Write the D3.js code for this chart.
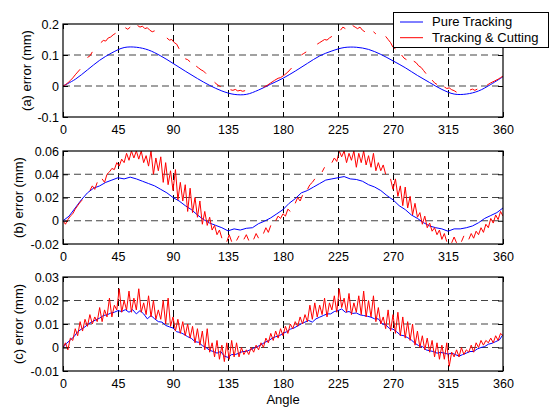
<!DOCTYPE html>
<html>
<head>
<meta charset="utf-8">
<script src="https://cdn.jsdelivr.net/npm/d3@7"></script>
<style>
  body { margin: 0; background: #fff; }
  text { font-family: "Liberation Sans", Arial, sans-serif; fill: #000; }
</style>
</head>
<body>
<svg id="chart" width="554" height="408"></svg>
<script>
// x axis ticks (degrees)
const angleTicks = [0, 45, 90, 135, 180, 225, 270, 315, 360];

// (a) pure tracking, every 10 deg
const pureA = [0, 0.0215, 0.052, 0.083, 0.107, 0.124, 0.125, 0.116, 0.097, 0.073,
  0.048, 0.024, 0.002, -0.016, -0.027, -0.027, -0.013, 0.006, 0.025, 0.048,
  0.073, 0.097, 0.113, 0.124, 0.125, 0.118, 0.102, 0.081, 0.059, 0.034,
  0.011, -0.011, -0.026, -0.026, -0.016, 0.005, 0.030];

// (a) tracking & cutting, [angle, error], null = gap in the trace
const cuttingA = [
  [0, 0], [2, 0.004], [4, 0.010], [6, 0.018], [8, 0.026], [10, 0.036], [12, 0.045], [14, 0.054], null,
  [20, 0.092], [22, 0.097], [24, 0.110], null,
  [31, 0.140], [33, 0.147], [35, 0.145], [37, 0.155], [39, 0.158], [41, 0.165], [43, 0.170], null,
  [51, 0.188], [53, 0.183], [55, 0.190], null,
  [61, 0.195], [63, 0.190], [65, 0.193], [67, 0.185], [69, 0.188], [71, 0.180], [73, 0.175], [75, 0.178], null,
  [85, 0.155], [87, 0.148], [89, 0.150], [91, 0.140], [93, 0.135], [95, 0.120], null,
  [100, 0.088], [102, 0.085], [104, 0.078], null,
  [109, 0.064], [111, 0.058], [113, 0.052], [115, 0.048], [117, 0.040], null,
  [124, 0.012], [126, 0.005], [128, 0.000], [129, -0.002], null,
  [137, -0.012], [139, -0.014], [141, -0.011], [143, -0.016], [145, -0.014], [147, -0.017], [149, -0.015], null,
  [164, -0.004], [167, 0.002], [170, 0.010], [173, 0.018], [176, 0.025], [178, 0.027], [181, 0.035], [184, 0.045], [187, 0.058], null,
  [195, 0.100], [197, 0.105], [199, 0.110], null,
  [208, 0.135], [210, 0.140], [212, 0.145], [214, 0.150], [216, 0.148], [218, 0.155], [220, 0.160], null,
  [227, 0.180], [229, 0.190], [231, 0.185], null,
  [237, 0.195], [239, 0.190], [241, 0.185], [243, 0.190], [245, 0.180], [247, 0.175], null,
  [254, 0.175], [256, 0.168], null,
  [264, 0.160], [266, 0.150], [268, 0.140], [270, 0.125], [272, 0.120], null,
  [277, 0.100], [279, 0.090], [281, 0.085], null,
  [287, 0.080], [289, 0.075], [291, 0.065], [293, 0.060], [295, 0.050], [297, 0.040], null,
  [302, 0.019], [304, 0.010], [306, 0.005], null,
  [312, -0.003], [314, -0.008], [316, -0.006], [318, -0.012], [320, -0.015], [322, -0.020], null,
  [333, -0.013], [335, -0.010], [337, -0.014], [339, -0.010], null,
  [347, 0.003], [350, 0.010], [353, 0.016], [356, 0.022], [358, 0.027], [360, 0.032]
];

// (b) pure tracking, every 5 deg
const pureB = [0, 0.004, 0.011, 0.018, 0.024, 0.028, 0.030, 0.033, 0.035, 0.037,
  0.036, 0.0375, 0.036, 0.034, 0.032, 0.030, 0.027, 0.024, 0.020, 0.017,
  0.013, 0.0096, 0.005, 0.001, -0.002, -0.004, -0.006, -0.0087, -0.007, -0.008,
  -0.0065, -0.006, -0.0025, -0.0003, 0.0025, 0.006, 0.0096, 0.015, 0.019, 0.024,
  0.026, 0.029, 0.032, 0.035, 0.036, 0.037, 0.038, 0.036, 0.0355, 0.034,
  0.031, 0.029, 0.026, 0.0217, 0.018, 0.013, 0.0096, 0.005, 0.002, -0.0017,
  -0.0045, -0.006, -0.007, -0.009, -0.007, -0.007, -0.006, -0.0045, -0.0017, 0.002,
  0.0045, 0.007, 0.011];

// (b) tracking & cutting, every 2 deg
const cuttingB = [
  0, -0.003, 0.001, 0.004, 0.006, 0.010, 0.013, 0.016, 0.018, null, null, 0.026, 0.030, 0.027, 0.033,
  null, 0.036, 0.033, 0.040, 0.042, 0.045, 0.044, 0.050, 0.047, 0.053, 0.050, 0.058, 0.052, 0.060, 0.054,
  0.060, 0.053, 0.060, 0.050, 0.056, 0.047, 0.060, 0.040, 0.054, 0.043, 0.055, 0.033, 0.050, 0.031, 0.043,
  0.026, 0.044, 0.018, 0.033, 0.017, 0.031, 0.008, 0.028, 0.007, 0.020, 0.003, 0.017, -0.003, 0.008, -0.004,
  0.003, -0.008, -0.004, -0.012, -0.008, -0.015, null, -0.018, -0.012, -0.018, null, -0.017, -0.013, null, -0.016,
  -0.012, -0.017, null, -0.016, -0.011, -0.015, null, -0.011, -0.006, -0.010, -0.004, null, 0.000, 0.004, 0.002,
  0.006, 0.004, 0.010, 0.008, null, 0.015, 0.020, 0.017, 0.022, null, 0.027, 0.031, 0.033, 0.036, null,
  null, 0.042, 0.046, null, null, 0.050, 0.054, 0.051, 0.060, 0.055, 0.060, 0.050, 0.058, 0.052, 0.060,
  0.046, 0.058, 0.050, 0.060, 0.048, 0.056, 0.046, 0.058, 0.043, 0.050, 0.043, 0.048, 0.040, null, 0.036,
  0.027, 0.036, 0.021, 0.030, 0.013, 0.029, 0.011, 0.021, 0.005, 0.015, 0.003, 0.007, -0.003, 0.004, -0.006,
  -0.002, -0.009, -0.006, -0.012, -0.008, -0.016, -0.011, -0.018, null, -0.019, -0.014, -0.019, null, -0.018, -0.013,
  null, -0.016, -0.011, -0.015, -0.009, -0.012, -0.006, -0.010, -0.003, -0.006, 0.002, -0.002, 0.005, 0.001, 0.008,
  0.004];

// (c) pure tracking, every 3 deg
const pureC = [
  0, 0.0018, 0.0032, 0.0046, 0.0067, 0.0078, 0.0088, 0.0101, 0.011, 0.0118,
  0.0125, 0.0136, 0.0139, 0.0146, 0.015, 0.0157, 0.0153, 0.0161, 0.015, 0.0161,
  0.0143, 0.0157, 0.0143, 0.0122, 0.0136, 0.0122, 0.011, 0.0108, 0.0094, 0.0088,
  0.0083, 0.0067, 0.0064, 0.0056, 0.0046, 0.0039, 0.0025, 0.0022, 0.0008, 0,
  -0.0012, -0.0017, -0.0024, -0.0017, -0.0037, -0.0042, -0.003, -0.003, -0.0024, -0.0017,
  -0.0017, -0.001, -0.0003, 0.0004, 0.0011, 0.0022, 0.0028, 0.0039, 0.0046, 0.005,
  0.006, 0.0067, 0.0078, 0.0083, 0.0092, 0.0101, 0.0108, 0.0115, 0.0108, 0.0122,
  0.0129, 0.0136, 0.0143, 0.0143, 0.0153, 0.0157, 0.0164, 0.015, 0.0153, 0.0145,
  0.0147, 0.0139, 0.0136, 0.0133, 0.0129, 0.0122, 0.0122, 0.0101, 0.0097, 0.0081,
  0.0078, 0.0067, 0.0053, 0.005, 0.0042, 0.0032, 0.0018, 0.0008, 0.0004, -0.001,
  -0.0014, -0.0017, -0.0024, -0.0021, -0.0024, -0.0028, -0.0024, -0.003, -0.0037, -0.003,
  -0.0024, -0.0017, -0.0017, -0.0006, 0, 0.0004, 0.0014, 0.0018, 0.0025, 0.0032,
  0.0055];

// (c) tracking & cutting, every 2 deg
const cuttingC = [
  0, 0.002, -0.001, 0.004, 0.003, 0.008, 0.005, 0.011, 0.007, 0.012, 0.009, 0.014, 0.010, 0.013, 0.011,
  0.017, 0.011, 0.016, 0.013, 0.021, 0.013, 0.018, 0.016, 0.025, 0.015, 0.020, 0.016, 0.024, 0.015, 0.021,
  0.016, 0.025, 0.015, 0.019, 0.014, 0.022, 0.013, 0.020, 0.012, 0.016, 0.012, 0.020, 0.010, 0.021, 0.009,
  0.013, 0.007, 0.012, 0.006, 0.011, 0.005, 0.010, 0.004, 0.009, 0.002, 0.008, 0.001, 0.007, -0.001, 0.008,
  -0.002, 0.002, -0.004, 0.003, -0.005, 0.001, -0.006, 0.002, -0.005, 0.003, -0.004, 0.002, -0.004, 0.000, -0.003,
  -0.001, -0.003, 0.000, -0.002, 0.001, -0.001, 0.002, 0.000, 0.004, 0.002, 0.006, 0.003, 0.007, 0.004, 0.008,
  0.005, 0.009, 0.006, 0.010, 0.008, 0.011, 0.009, 0.013, 0.010, 0.014, 0.011, 0.018, 0.012, 0.019, 0.013,
  0.018, 0.014, 0.021, 0.013, 0.019, 0.016, 0.022, 0.015, 0.025, 0.017, 0.021, 0.015, 0.023, 0.014, 0.019,
  0.015, 0.022, 0.014, 0.024, 0.013, 0.020, 0.013, 0.022, 0.011, 0.017, 0.010, 0.013, 0.008, 0.016, 0.007,
  0.014, 0.006, 0.015, 0.005, 0.013, 0.004, 0.011, 0.003, 0.010, 0.001, 0.007, 0.000, 0.005, -0.001, 0.004,
  -0.002, 0.003, -0.004, 0.002, -0.005, 0.001, -0.005, 0.002, -0.008, -0.002, -0.004, -0.001, -0.004, 0.000, -0.003,
  -0.001, -0.002, 0.001, -0.002, 0.002, 0.000, 0.003, 0.001, 0.003, 0.002, 0.004, 0.002, 0.005, 0.003, 0.006,
  0.005];

const ticksA = [-0.1, 0, 0.1, 0.2];
const ticksB = [-0.02, 0, 0.02, 0.04, 0.06];
const ticksC = [-0.01, 0, 0.01, 0.02, 0.03];

const seriesNames = ["Pure Tracking", "Tracking & Cutting"];
const colors = ["#0000ff", "#ff0000"];

const svg = d3.select("#chart");
const left = 63, right = 503;
const x = d3.scaleLinear().domain([0, 360]).range([left, right]);

const panels = [
  { id: "a", label: "(a) error (mm)", top: 24, bottom: 117, ticks: ticksA, labelX: 31,
    pure: d3.zip(d3.range(0, 361, 10), pureA), cut: cuttingA, curve: d3.curveCatmullRom },
  { id: "b", label: "(b) error (mm)", top: 151, bottom: 244, ticks: ticksB, labelX: 23,
    pure: d3.zip(d3.range(0, 361, 5), pureB), cut: d3.zip(d3.range(0, 361, 2), cuttingB), curve: d3.curveLinear },
  { id: "c", label: "(c) error (mm)", top: 277, bottom: 371, ticks: ticksC, labelX: 23,
    pure: d3.zip(d3.range(0, 361, 3), pureC), cut: d3.zip(d3.range(0, 361, 2), cuttingC), curve: d3.curveLinear }
];

panels.forEach(p => {
  const y = d3.scaleLinear().domain(d3.extent(p.ticks)).range([p.bottom, p.top]);
  const g = svg.append("g");

  // dashed grid
  g.selectAll(".vg").data(angleTicks.slice(1, -1)).join("line")
    .attr("x1", d => Math.round(x(d)) + 0.5).attr("x2", d => Math.round(x(d)) + 0.5)
    .attr("y1", p.top).attr("y2", p.bottom)
    .attr("stroke", "#000").attr("stroke-dasharray", "7,4");
  g.selectAll(".hg").data(p.ticks.slice(1, -1)).join("line")
    .attr("x1", left).attr("x2", right)
    .attr("y1", d => y(d)).attr("y2", d => y(d))
    .attr("stroke", "#444").attr("stroke-width", 1.2).attr("stroke-dasharray", "7,4");

  g.append("clipPath").attr("id", "clip-" + p.id)
    .append("rect").attr("x", left).attr("y", p.top)
    .attr("width", right - left).attr("height", p.bottom - p.top);

  const line = d3.line()
    .defined(d => d && d[1] != null)
    .x(d => x(d[0])).y(d => y(d[1]));

  const plot = g.append("g").attr("clip-path", "url(#clip-" + p.id + ")");
  plot.append("path").datum(p.pure)
    .attr("d", line.curve(p.curve))
    .attr("fill", "none").attr("stroke", colors[0]).attr("stroke-width", 1);
  plot.append("path").datum(p.cut)
    .attr("d", line.curve(d3.curveLinear))
    .attr("fill", "none").attr("stroke", colors[1]).attr("stroke-width", 1);

  // axes, ticks pointing inwards
  const fmt = d => String(d);
  g.append("g").attr("transform", `translate(0,${p.bottom})`)
    .call(d3.axisBottom(x).tickValues(angleTicks).tickSize(-5).tickSizeOuter(0).tickPadding(8))
    .call(a => a.select(".domain").remove())
    .selectAll("text").attr("font-size", "12.5px");
  g.append("g").attr("transform", `translate(0,${p.top})`)
    .call(d3.axisTop(x).tickValues(angleTicks).tickSize(-5).tickSizeOuter(0).tickFormat(""))
    .call(a => a.select(".domain").remove());
  g.append("g").attr("transform", `translate(${left},0)`)
    .call(d3.axisLeft(y).tickValues(p.ticks).tickSize(-5).tickSizeOuter(0).tickPadding(4).tickFormat(fmt))
    .call(a => a.select(".domain").remove())
    .selectAll("text").attr("font-size", "12.5px");
  g.append("g").attr("transform", `translate(${right},0)`)
    .call(d3.axisRight(y).tickValues(p.ticks).tickSize(-5).tickSizeOuter(0).tickFormat(""))
    .call(a => a.select(".domain").remove());
  g.selectAll(".tick line").attr("stroke", "#000");
  g.selectAll(".tick text").attr("fill", "#000").attr("font-family", "Liberation Sans, Arial, sans-serif");

  g.append("rect")
    .attr("x", left).attr("y", p.top)
    .attr("width", right - left).attr("height", p.bottom - p.top)
    .attr("fill", "none").attr("stroke", "#000").attr("stroke-width", 1.2);

  g.append("text")
    .attr("transform", `translate(${p.labelX},${(p.top + p.bottom) / 2}) rotate(-90)`)
    .attr("text-anchor", "middle").attr("font-size", "13px")
    .text(p.label);
});

svg.append("text")
  .attr("x", (left + right) / 2).attr("y", 404)
  .attr("text-anchor", "middle").attr("font-size", "13px")
  .text("Angle");

// legend
const legend = svg.append("g");
legend.append("rect")
  .attr("x", 393.5).attr("y", 12.5).attr("width", 155).attr("height", 35)
  .attr("fill", "#fff").attr("stroke", "#000").attr("stroke-width", 1);
seriesNames.forEach((name, i) => {
  const ly = 22 + i * 15.7;
  legend.append("line")
    .attr("x1", 400).attr("x2", 423).attr("y1", ly).attr("y2", ly)
    .attr("stroke", colors[i]).attr("stroke-width", 1);
  legend.append("text")
    .attr("x", 432).attr("y", ly + 4.3)
    .attr("font-size", "13px")
    .text(name);
});
</script>
</body>
</html>
